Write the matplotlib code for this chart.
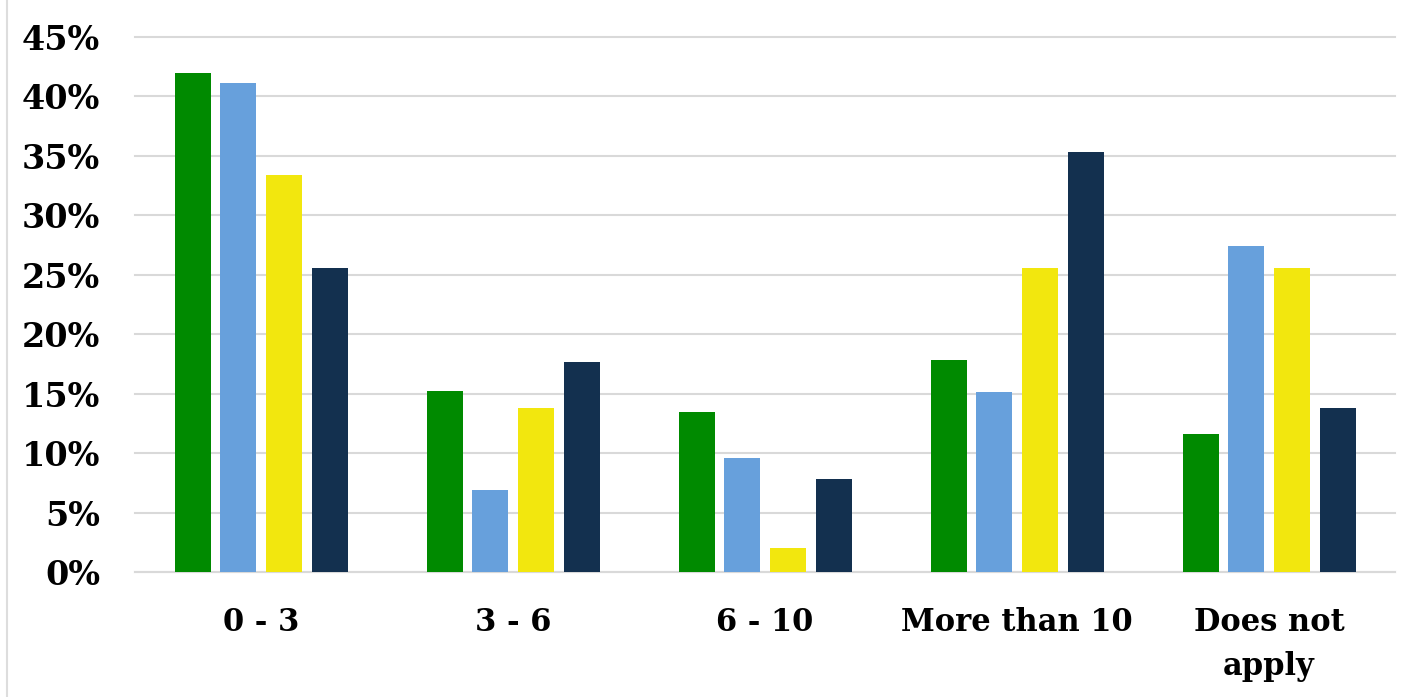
import numpy as np
import matplotlib
matplotlib.use("Agg")
import matplotlib.pyplot as plt

categories = ["0 - 3", "3 - 6", "6 - 10", "More than 10", "Does not\napply"]
green_vals = [42.0, 15.2, 13.5, 17.8, 11.6]
blue_vals = [41.1, 6.9, 9.6, 15.1, 27.4]
yellow_vals = [33.4, 13.8, 2.0, 25.6, 25.6]
navy_vals = [25.6, 17.7, 7.8, 35.3, 13.8]
yticks = [0, 5, 10, 15, 20, 25, 30, 35, 40, 45]

series = [green_vals, blue_vals, yellow_vals, navy_vals]
colors = ["#008A00", "#67A0DC", "#F2E70E", "#13304F"]
offsets = [-0.271, -0.091, 0.091, 0.273]

fig = plt.figure(figsize=(14.1, 6.97), dpi=100)
ax = fig.add_axes([135 / 1410, 125 / 697, 1260 / 1410, 535 / 697])

x = np.arange(len(categories))
for vals, col, off in zip(series, colors, offsets):
    ax.bar(x + off, vals, width=0.143, color=col, zorder=3)

ax.set_xlim(-0.5, len(categories) - 0.5)
ax.set_ylim(0, 45)
ax.set_yticks(yticks)
ax.set_yticklabels([f"{t}%" for t in yticks])
ax.set_xticks(x)
ax.set_xticklabels(categories, linespacing=1.55, va="top")

for lab in ax.get_xticklabels():
    lab.set_fontfamily("DejaVu Serif")
    lab.set_fontweight("bold")
    lab.set_fontsize(22)
for lab in ax.get_yticklabels():
    lab.set_fontfamily("DejaVu Serif")
    lab.set_fontweight("bold")
    lab.set_fontsize(24)

ax.tick_params(axis="both", length=0)
ax.tick_params(axis="y", pad=25)
ax.tick_params(axis="x", pad=25)
ax.grid(axis="y", color="#D9D9D9", linewidth=1.5, zorder=0)
for gl in ax.get_ygridlines():
    gl.set_clip_on(False)
for s in ["top", "right", "left"]:
    ax.spines[s].set_visible(False)
ax.spines["bottom"].set_color("#D9D9D9")
ax.spines["bottom"].set_linewidth(1.5)

# thin border line on the far left
fig.add_artist(plt.Line2D([7 / 1410, 7 / 1410], [0, 1], color="#DDDDDD", linewidth=1.5))

fig.savefig("out.png", dpi=100)
